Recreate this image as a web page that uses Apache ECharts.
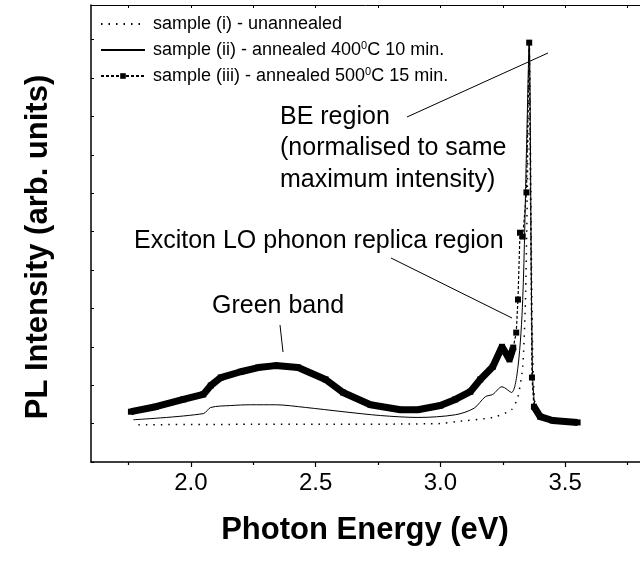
<!DOCTYPE html>
<html>
<head>
<meta charset="utf-8">
<style>
  html, body { margin: 0; padding: 0; background: #fff; }
  #chart { width: 640px; height: 561px; }
</style>
<script src="https://cdn.jsdelivr.net/npm/echarts@6/dist/echarts.min.js"></script>
</head>
<body>
<div id="chart"></div>
<script>
// photon energy (eV) and PL intensity (arb. units, one y-tick = 1)
var energyI = [1.79, 2.2, 2.6, 3.0, 3.06, 3.21, 3.285, 3.311, 3.33, 3.341, 3.348, 3.356, 3.367, 3.378, 3.416, 3.45];
var intensityI = [-0.03, -0.02, -0.02, 0.0, 0.05, 0.16, 0.36, 0.70, 1.48, 3.2, 5.8, 9.92, 3.2, 0.6, 0.1, 0.05];

var energyII = [1.77, 2.05, 2.08, 2.16, 2.24, 2.34, 2.46, 2.61, 2.76, 2.91, 3.06, 3.135, 3.18, 3.21, 3.247, 3.285, 3.311, 3.33, 3.345, 3.356, 3.367, 3.378, 3.416, 3.45];
var intensityII = [0.10, 0.26, 0.42, 0.47, 0.49, 0.49, 0.42, 0.31, 0.21, 0.16, 0.23, 0.40, 0.70, 0.76, 0.96, 0.81, 1.48, 3.23, 7.1, 9.92, 2.4, 0.49, 0.16, 0.08];

var energyIII = [1.76, 1.86, 1.97, 2.05, 2.08, 2.12, 2.20, 2.27, 2.34, 2.43, 2.54, 2.61, 2.72, 2.84, 2.91, 3.00, 3.06, 3.12, 3.16, 3.21, 3.247, 3.277, 3.292, 3.304, 3.311, 3.319, 3.33, 3.345, 3.356, 3.367, 3.375, 3.40, 3.45, 3.55];
var intensityIII = [0.31, 0.44, 0.63, 0.76, 0.99, 1.20, 1.35, 1.46, 1.51, 1.46, 1.15, 0.81, 0.49, 0.36, 0.36, 0.47, 0.63, 0.83, 1.15, 1.48, 2.0, 1.67, 1.98, 2.37, 3.23, 4.97, 4.87, 6.02, 9.92, 1.20, 0.44, 0.18, 0.08, 0.03];

var majorTicks = [2.0, 2.5, 3.0, 3.5];
var minorTicks = [1.75, 2.25, 2.75, 3.25, 3.75];
var topTicks = [1.75, 2.0, 2.25, 2.5, 2.75, 3.0, 3.25, 3.5, 3.75];

var nameI = 'sample (i) - unannealed';
var nameII = 'sample (ii) - annealed 400°C 10 min.';
var nameIII = 'sample (iii) - annealed 500°C 15 min.';

var font = "'Liberation Sans', Arial, sans-serif";

function pairs(xs, ys) {
    return xs.map(function (x, i) { return [x, ys[i]]; });
}
// the dense squares of sample (iii) look like a thick band away from the BE peak
var bandIII = energyIII.map(function (x, i) {
    return (x <= 3.30 || x >= 3.375) ? [x, intensityIII[i]] : [x, '-'];
});

var chart = echarts.init(document.getElementById('chart'));
var option = {
    backgroundColor: '#fff',
    animation: false,
    textStyle: { fontFamily: font },
    grid: { left: 91, top: 5, bottom: 99, right: -38 },
    legend: {
        orient: 'vertical',
        left: 95,
        top: 9,
        itemWidth: 44,
        itemHeight: 7,
        itemGap: 6,
        selectedMode: false,
        data: [
            { name: nameI, itemStyle: { opacity: 0 } },
            { name: nameII, itemStyle: { opacity: 0 } },
            { name: nameIII }
        ],
        formatter: function (name) {
            return name.replace('°', '{s|0}');
        },
        textStyle: {
            fontSize: 18, color: '#000', fontFamily: font, lineHeight: 20, padding: [0, 0, 0, 3],
            rich: { s: { fontSize: 11, lineHeight: 11, verticalAlign: 'top', color: '#000', fontFamily: font } }
        }
    },
    xAxis: [
        {
            type: 'value', min: 1.6, max: 3.8, position: 'bottom',
            axisLine: { onZero: false, lineStyle: { color: '#000', width: 1.5 } },
            splitLine: { show: false },
            axisTick: { customValues: majorTicks, length: 5, lineStyle: { color: '#000', width: 1.2 } },
            axisLabel: {
                customValues: majorTicks, fontSize: 24, color: '#000', margin: 9, fontFamily: font,
                formatter: function (v) { return v.toFixed(1); }
            }
        },
        {
            type: 'value', min: 1.6, max: 3.8, position: 'bottom',
            axisLine: { show: false, onZero: false },
            splitLine: { show: false },
            axisTick: { customValues: minorTicks, length: 3, lineStyle: { color: '#000', width: 1.2 } },
            axisLabel: { show: false }
        },
        {
            type: 'value', min: 1.6, max: 3.8, position: 'top',
            axisLine: { onZero: false, lineStyle: { color: '#000', width: 1 } },
            splitLine: { show: false },
            axisTick: { inside: true, customValues: topTicks, length: 3, lineStyle: { color: '#000', width: 1 } },
            axisLabel: { show: false }
        }
    ],
    yAxis: {
        type: 'value', min: -1, max: 10.9, interval: 1,
        axisLine: { show: true, onZero: false, lineStyle: { color: '#000', width: 1.5 } },
        axisTick: { show: true, inside: true, length: 3, lineStyle: { color: '#000', width: 1 } },
        axisLabel: { show: false },
        splitLine: { show: false }
    },
    series: [
        {
            name: 'band (iii)', type: 'line', data: bandIII, connectNulls: false,
            symbol: 'none', lineStyle: { color: '#000', width: 7 }, z: 2
        },
        {
            name: nameIII, type: 'line', data: pairs(energyIII, intensityIII),
            symbol: 'rect', symbolSize: 6, showAllSymbol: true,
            itemStyle: { color: '#000' },
            lineStyle: { color: '#000', width: 1.2, type: [3, 2] }, z: 3
        },
        {
            name: nameII, type: 'line', data: pairs(energyII, intensityII), symbol: 'none',
            smooth: 0.3, lineStyle: { color: '#000', width: 1 }, itemStyle: { color: '#000' }, z: 4
        },
        {
            name: nameI, type: 'line', data: pairs(energyI, intensityI), symbol: 'none',
            smooth: 0.2, lineStyle: { color: '#000', width: 1.5, type: [1.5, 6] }, itemStyle: { color: '#000' }, z: 4
        }
    ],
    graphic: [
        { type: 'text', left: 280, top: 101, style: { text: 'BE region\n(normalised to same\nmaximum intensity)', font: '25px ' + font, fill: '#000', lineHeight: 31.5 } },
        { type: 'line', shape: { x1: 407, y1: 117, x2: 548, y2: 53 }, style: { stroke: '#000', lineWidth: 1 } },
        { type: 'text', left: 134, top: 229, style: { text: 'Exciton LO phonon replica region', font: '25px ' + font, fill: '#000' } },
        { type: 'line', shape: { x1: 391, y1: 258, x2: 512, y2: 318 }, style: { stroke: '#000', lineWidth: 1 } },
        { type: 'text', left: 212, top: 294, style: { text: 'Green band', font: '25px ' + font, fill: '#000' } },
        { type: 'line', shape: { x1: 280, y1: 325, x2: 283, y2: 352 }, style: { stroke: '#000', lineWidth: 1 } },
        { type: 'text', x: 365, y: 530, style: { text: 'Photon Energy (eV)', font: 'bold 31px ' + font, fill: '#000', textAlign: 'center', textVerticalAlign: 'middle' } },
        { type: 'text', x: 38, y: 247, rotation: Math.PI / 2, style: { text: 'PL Intensity (arb. units)', font: 'bold 31px ' + font, fill: '#000', textAlign: 'center', textVerticalAlign: 'middle' } }
    ]
};
chart.setOption(option);
window.addEventListener('resize', function () {
    chart.resize();
});
</script>
</body>
</html>
